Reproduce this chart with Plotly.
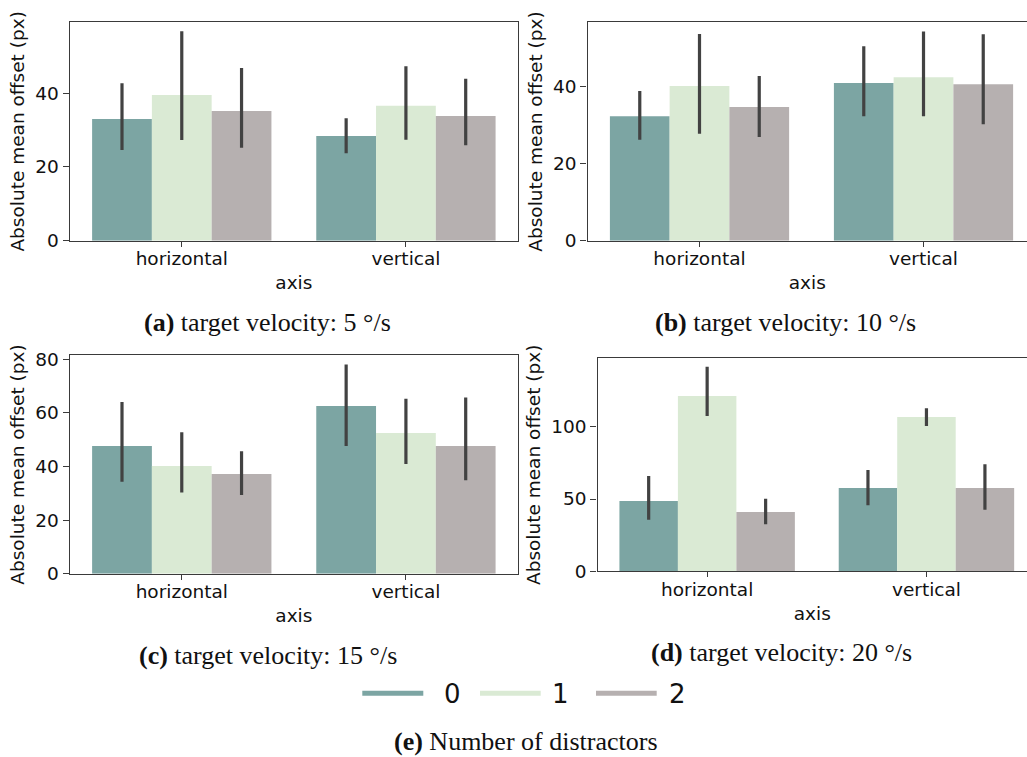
import plotly.graph_objects as go

W, H = 1027, 757

categories = ["horizontal", "vertical"]
distractors = ["0", "1", "2"]
colors = ["#7ca5a3", "#daead4", "#b6b0b0"]

# per distractor count: [horizontal, vertical]
a_mean = [[33.0, 28.4], [39.5, 36.6], [35.2, 33.8]]
a_lo = [[24.6, 23.7], [27.3, 27.4], [25.2, 25.9]]
a_hi = [[42.7, 33.2], [56.8, 47.3], [46.8, 43.9]]

b_mean = [[32.2, 40.8], [40.0, 42.3], [34.6, 40.5]]
b_lo = [[26.1, 32.2], [27.7, 32.2], [26.8, 30.1]]
b_hi = [[38.7, 50.3], [53.5, 54.1], [42.6, 53.4]]

c_mean = [[47.6, 62.5], [40.1, 52.4], [37.2, 47.6]]
c_lo = [[34.3, 47.6], [30.3, 40.9], [29.3, 34.8]]
c_hi = [[64.0, 78.0], [52.7, 65.2], [45.6, 65.7]]

d_mean = [[48.6, 57.6], [121.2, 106.7], [41.0, 57.6]]
d_lo = [[35.7, 45.6], [107.4, 100.5], [32.5, 42.6]]
d_hi = [[65.9, 70.1], [141.5, 112.7], [50.2, 74.0]]

captions = [
    "<b>(a)</b> target velocity: 5 °/s",
    "<b>(b)</b> target velocity: 10 °/s",
    "<b>(c)</b> target velocity: 15 °/s",
    "<b>(d)</b> target velocity: 20 °/s",
]
legend_caption = "<b>(e)</b> Number of distractors"

panels = [
    dict(mean=a_mean, lo=a_lo, hi=a_hi, ax="", box=(69.7, 518.0, 22.0, 240.7), ymax=59.3, dtick=20, xr=1.5, mirror=True),
    dict(mean=b_mean, lo=b_lo, hi=b_hi, ax="2", box=(587.5, 1027, 22.3, 240.7), ymax=56.5, dtick=20, xr=1.462, mirror=False),
    dict(mean=c_mean, lo=c_lo, hi=c_hi, ax="3", box=(69.7, 518.0, 355.3, 573.7), ymax=81.4, dtick=20, xr=1.5, mirror=True),
    dict(mean=d_mean, lo=d_lo, hi=d_hi, ax="4", box=(597.5, 1027, 358.3, 571.3), ymax=147.3, dtick=50, xr=1.4585, mirror=False),
]

fig = go.Figure()
tickfont = dict(family="DejaVu Sans", size=18.5, color="#111")
AXC = "#3a3a3a"

for p in panels:
    for k in range(3):
        m = p["mean"][k]
        fig.add_trace(go.Bar(
            x=categories, y=m, name=distractors[k],
            marker=dict(color=colors[k], line=dict(width=0)),
            error_y=dict(type="data", symmetric=False,
                         array=[h - v for h, v in zip(p["hi"][k], m)],
                         arrayminus=[v - l for v, l in zip(m, p["lo"][k])],
                         color="#424242", thickness=3.2, width=0),
            xaxis="x" + p["ax"], yaxis="y" + p["ax"], showlegend=False,
        ))
    x0, x1, yt, yb = p["box"]
    anchor_y = "y" + p["ax"]
    anchor_x = "x" + p["ax"]
    fig.update_layout(**{
        "xaxis" + p["ax"]: dict(
            domain=[x0 / W, x1 / W], anchor=anchor_y, range=[-0.5, p["xr"]],
            showline=True, linecolor=AXC, linewidth=1.3, mirror=True,
            ticks="outside", ticklen=5, tickwidth=1.3, tickcolor=AXC,
            tickfont=tickfont, showgrid=False, zeroline=False,
            ticklabelstandoff=-4,
            title=dict(text="axis", font=tickfont, standoff=8),
            automargin=False,
        ),
        "yaxis" + p["ax"]: dict(
            domain=[1 - yb / H, 1 - yt / H], anchor=anchor_x, range=[0, p["ymax"]],
            dtick=p["dtick"], showline=True, linecolor=AXC, linewidth=1.3,
            mirror=p["mirror"], ticks="outside", ticklen=6, tickwidth=1.3,
            tickcolor=AXC, tickfont=tickfont, showgrid=False, zeroline=False,
            title=dict(text="Absolute mean offset (px)", font=tickfont, standoff=5),
            automargin=False,
        ),
    })

annotations = []
cap_pos = [(267.5, 323), (785, 323), (267.5, 655), (781, 652)]
capfont = dict(family="Liberation Serif", size=26, color="#111")
for text, (cx, cy) in zip(captions, cap_pos):
    annotations.append(dict(text=text, x=cx / W, y=1 - cy / H, xref="paper", yref="paper",
                            xanchor="center", yanchor="middle", showarrow=False, font=capfont))

# legend drawn as line swatches with labels
shapes = []
leg_lines = [(362.3, 423.3), (480, 540.7), (596, 656.7)]
leg_text_x = [452.5, 560, 677]
leg_y = 693.3
for k in range(3):
    lx0, lx1 = leg_lines[k]
    shapes.append(dict(type="line", xref="paper", yref="paper",
                       x0=lx0 / W, x1=lx1 / W, y0=1 - leg_y / H, y1=1 - leg_y / H,
                       line=dict(color=colors[k], width=5)))
    annotations.append(dict(text=distractors[k], x=leg_text_x[k] / W, y=1 - (leg_y + 1) / H,
                            xref="paper", yref="paper", xanchor="center", yanchor="middle",
                            showarrow=False, font=dict(family="DejaVu Sans", size=26, color="#111")))
annotations.append(dict(text=legend_caption, x=526 / W, y=0.5 / H, xref="paper", yref="paper",
                        xanchor="center", yanchor="bottom", borderpad=0, showarrow=False, font=capfont))

fig.update_layout(
    width=W, height=H, margin=dict(l=0, r=0, t=0, b=0),
    paper_bgcolor="white", plot_bgcolor="white",
    barmode="group", bargap=0.2, bargroupgap=0,
    showlegend=False, annotations=annotations, shapes=shapes,
)

fig.write_html("out.html")
